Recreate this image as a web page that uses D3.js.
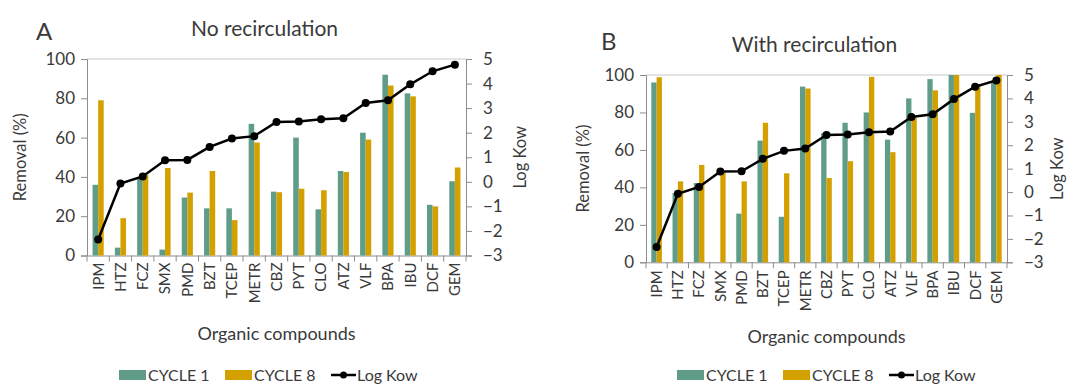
<!DOCTYPE html>
<html>
<head>
<meta charset="utf-8">
<script src="https://cdn.jsdelivr.net/npm/d3@7"></script>
<style>
  body { margin: 0; background: #fff; }
  svg text { font-family: Lato, "Open Sans", sans-serif; fill: #3a3a3a; }
</style>
</head>
<body>
<div id="chart"></div>
<script>
var compounds = ["IPM", "HTZ", "FCZ", "SMX", "PMD", "BZT", "TCEP", "METR", "CBZ",
                 "PYT", "CLO", "ATZ", "VLF", "BPA", "IBU", "DCF", "GEM"];
var logKow = [-2.35, -0.07, 0.22, 0.88, 0.89, 1.42, 1.76, 1.86, 2.44,
              2.46, 2.55, 2.59, 3.21, 3.32, 3.97, 4.5, 4.77];

// panel A: no recirculation
var cycle1A = [36, 4, 39, 3, 29.5, 24, 24, 67, 32.5, 60, 23.5, 43, 62.5, 92, 82.5, 25.8, 37.8];
var cycle8A = [79, 19, 41, 44.5, 32, 43, 18, 57.5, 32.2, 34, 33.2, 42.5, 59, 86.5, 81, 25, 44.8];

// panel B: with recirculation
var cycle1B = [96, 37, 42.3, 0, 26, 65, 24.3, 93.8, 69, 74.5, 80, 65.5, 87.5, 97.8, 100, 79.8, 97];
var cycle8B = [98.8, 43.2, 52, 48.5, 43.2, 74.5, 47.5, 92.8, 45, 54, 99, 58.8, 77, 91.8, 100, 95, 100];

var removalTicks = [0, 20, 40, 60, 80, 100];
var kowTicks = [-3, -2, -1, 0, 1, 2, 3, 4, 5];
var seriesNames = ["CYCLE 1", "CYCLE 8", "Log Kow"];

var green = "#5f9d89",
    orange = "#d4a000",
    axisGrey = "#8c8c8c";

var svg = d3.select("#chart")
    .append("svg")
        .attr("width", 1067)
        .attr("height", 385);

function drawPanel(p) {
    var x = d3.scaleBand()
        .domain(compounds)
        .range([p.left, p.right]);

    var y = d3.scaleLinear()
        .domain([0, 100])
        .range([p.bottom, p.top]);

    var yk = d3.scaleLinear()
        .domain([-3, 5])
        .range([p.bottom, p.top]);

    var g = svg.append("g");

    // top border
    g.append("line")
        .attr("x1", p.left).attr("x2", p.right)
        .attr("y1", p.top).attr("y2", p.top)
        .attr("stroke", "#c8c8c8");

    // left axis
    var ya = g.append("g")
        .attr("transform", "translate(" + p.left + ",0)")
        .call(d3.axisLeft(y).tickValues(removalTicks).tickSize(6).tickPadding(6));
    ya.select(".domain").attr("stroke", axisGrey);
    ya.selectAll(".tick line").attr("stroke", axisGrey);
    ya.selectAll("text").style("font-size", "17px").attr("fill", "#3a3a3a");

    // right axis
    var ka = g.append("g")
        .attr("transform", "translate(" + p.right + ",0)")
        .call(d3.axisRight(yk).tickValues(kowTicks).tickSize(6).tickPadding(11));
    ka.select(".domain").attr("stroke", axisGrey);
    ka.selectAll(".tick line").attr("stroke", axisGrey);
    ka.selectAll("text").style("font-size", "17px").attr("fill", "#3a3a3a");

    // bottom axis with labels rotated
    var xa = g.append("g")
        .attr("transform", "translate(0," + p.bottom + ")")
        .call(d3.axisBottom(x).tickSize(0));
    xa.select(".domain").attr("stroke", axisGrey);
    xa.selectAll("text")
        .attr("transform", "rotate(-90)")
        .attr("x", -p.labelGap)
        .attr("y", 0)
        .attr("dy", "0.36em")
        .style("text-anchor", "end")
        .style("font-size", "15px")
        .attr("fill", "#3a3a3a");

    // category separators
    var edges = compounds.map(function(c) { return x(c); }).concat([p.right]);
    g.selectAll(".sep")
        .data(edges)
        .enter()
        .append("line")
        .attr("x1", function(d) { return d; })
        .attr("x2", function(d) { return d; })
        .attr("y1", p.bottom)
        .attr("y2", p.bottom + 6)
        .attr("stroke", axisGrey);

    var bw = x.bandwidth() * 0.25;

    g.selectAll(".c1")
        .data(compounds)
        .enter()
        .append("rect")
        .attr("x", function(d) { return x(d) + x.bandwidth() / 2 - bw; })
        .attr("y", function(d, i) { return y(p.c1[i]); })
        .attr("width", bw)
        .attr("height", function(d, i) { return p.bottom - y(p.c1[i]); })
        .attr("fill", green);

    g.selectAll(".c8")
        .data(compounds)
        .enter()
        .append("rect")
        .attr("x", function(d) { return x(d) + x.bandwidth() / 2; })
        .attr("y", function(d, i) { return y(p.c8[i]); })
        .attr("width", bw)
        .attr("height", function(d, i) { return p.bottom - y(p.c8[i]); })
        .attr("fill", orange);

    var line = d3.line()
        .x(function(d, i) { return x(compounds[i]) + x.bandwidth() / 2; })
        .y(function(d) { return yk(d); });

    g.append("path")
        .datum(logKow)
        .attr("d", line)
        .attr("fill", "none")
        .attr("stroke", "#000")
        .attr("stroke-width", 2.5);

    g.selectAll(".pt")
        .data(logKow)
        .enter()
        .append("circle")
        .attr("cx", function(d, i) { return x(compounds[i]) + x.bandwidth() / 2; })
        .attr("cy", function(d) { return yk(d); })
        .attr("r", 4)
        .attr("fill", "#000");

    // titles and labels
    g.append("text")
        .attr("x", p.letterX).attr("y", p.letterY)
        .style("font-size", "24px")
        .attr("fill", "#000")
        .text(p.letter);

    g.append("text")
        .attr("x", (p.left + p.right) / 2 - 12).attr("y", p.titleY)
        .attr("text-anchor", "middle")
        .style("font-size", "21px")
        .attr("fill", "#1a1a1a")
        .text(p.title);

    g.append("text")
        .attr("transform", "translate(" + p.yLabelX + "," + ((p.top + p.bottom) / 2) + ")rotate(-90)")
        .attr("text-anchor", "middle")
        .style("font-size", "16.5px")
        .text("Removal (%)");

    g.append("text")
        .attr("transform", "translate(" + p.kLabelX + "," + ((p.top + p.bottom) / 2) + ")rotate(-90)")
        .attr("text-anchor", "middle")
        .style("font-size", "16.5px")
        .text("Log Kow");

    g.append("text")
        .attr("x", (p.left + p.right) / 2).attr("y", p.xTitleY)
        .attr("text-anchor", "middle")
        .style("font-size", "18px")
        .text("Organic compounds");

    // legend
    var lg = g.append("g").attr("transform", "translate(" + p.legendX + ",375)");
    lg.append("rect").attr("x", 0).attr("y", -5).attr("width", 27).attr("height", 10).attr("fill", green);
    lg.append("text").attr("x", 29).attr("y", 6).style("font-size", "16px").text(seriesNames[0]);
    lg.append("rect").attr("x", 106).attr("y", -5).attr("width", 27).attr("height", 10).attr("fill", orange);
    lg.append("text").attr("x", 135).attr("y", 6).style("font-size", "16px").text(seriesNames[1]);
    lg.append("line").attr("x1", 212).attr("x2", 237).attr("y1", 0).attr("y2", 0)
        .attr("stroke", "#000").attr("stroke-width", 2.5);
    lg.append("circle").attr("cx", 224.5).attr("cy", 0).attr("r", 3.5).attr("fill", "#000");
    lg.append("text").attr("x", 238).attr("y", 6).style("font-size", "16px").text(seriesNames[2]);
}

drawPanel({
    left: 87, right: 466, top: 59, bottom: 255.5,
    c1: cycle1A, c8: cycle8A,
    letter: "A", letterX: 36, letterY: 40,
    title: "No recirculation", titleY: 36,
    yLabelX: 26, kLabelX: 526, xTitleY: 340, labelGap: 7,
    legendX: 119
});

drawPanel({
    left: 646, right: 1007, top: 75, bottom: 262.3,
    c1: cycle1B, c8: cycle8B,
    letter: "B", letterX: 601, letterY: 50,
    title: "With recirculation", titleY: 52,
    yLabelX: 589, kLabelX: 1063, xTitleY: 343, labelGap: 8,
    legendX: 677
});
</script>
</body>
</html>
